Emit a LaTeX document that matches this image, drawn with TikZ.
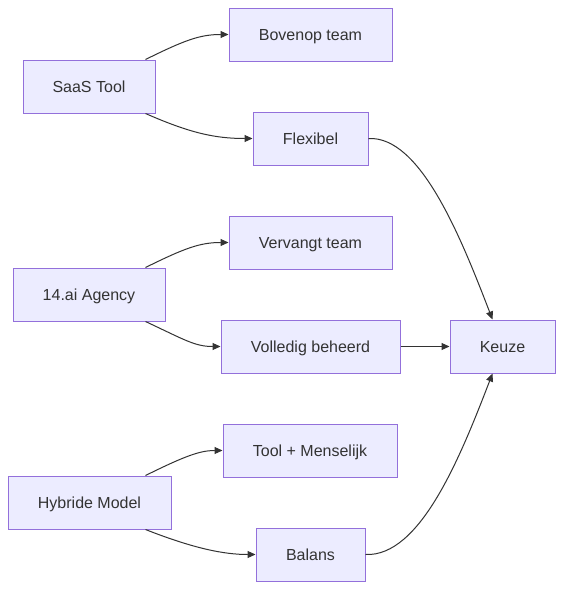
\documentclass[tikz,border=0pt]{standalone}
\usepackage{fontspec}
\setmainfont{Liberation Sans}
\usetikzlibrary{arrows.meta}
\definecolor{nodefill}{HTML}{ECECFF}
\definecolor{nodeline}{HTML}{9370DB}
\definecolor{txt}{HTML}{333333}
\definecolor{edge}{HTML}{333333}
\tikzset{
  box/.style={draw=nodeline, fill=nodefill, line width=1pt, rectangle, inner sep=0pt,
    text=txt, font=\fontsize{16}{19}\selectfont, minimum height=53pt,
    text height=11.5pt, text depth=0pt},
  conn/.style={draw=edge, line width=1pt, -{Triangle[length=8pt,width=7pt]}}
}
\begin{document}
\begin{tikzpicture}[x=1pt,y=-1pt]
\useasboundingbox (0,0) rectangle (564,590);
\node[box, minimum width=132pt] (saas) at (89,86.5) {SaaS Tool};
\node[box, minimum width=163pt] (bov) at (310.5,34.5) {Bovenop team};
\node[box, minimum width=115pt] (flex) at (310.5,138.5) {Flexibel};
\node[box, minimum width=163pt] (verv) at (310.5,242.5) {Vervangt team};
\node[box, minimum width=152pt] (agency) at (89,294.5) {14.ai Agency};
\node[box, minimum width=179pt] (voll) at (310.5,346.5) {Volledig beheerd};
\node[box, minimum width=105pt] (keuze) at (502.5,346.5) {Keuze};
\node[box, minimum width=174pt] (tool) at (310,450.5) {Tool + Menselijk};
\node[box, minimum width=163pt] (hyb) at (89.5,502.5) {Hybride Model};
\node[box, minimum width=109pt] (bal) at (310.5,554.5) {Balans};

\draw[conn] ([xshift=-10pt]saas.north east) .. controls (185,40) and (200,34.5) .. (bov.west);
\draw[conn] ([xshift=-10pt]saas.south east) .. controls (190,133) and (215,138.5) .. (flex.west);
\draw[conn] ([xshift=-20pt]agency.north east) .. controls (185,248) and (200,242.5) .. (verv.west);
\draw[conn] ([xshift=-20pt]agency.south east) .. controls (185,340) and (195,346.5) .. (voll.west);
\draw[conn] ([xshift=-26pt]hyb.north east) .. controls (185,456) and (200,450.5) .. (tool.west);
\draw[conn] ([xshift=-26pt]hyb.south east) .. controls (195,549) and (225,554.5) .. (bal.west);
\draw[conn] (flex.east) .. controls (420,136) and (460,235) .. ([xshift=-10pt]keuze.north);
\draw[conn] (voll.east) -- (keuze.west);
\draw[conn] (bal.east) .. controls (420,557) and (460,458) .. ([xshift=-10pt]keuze.south);
\end{tikzpicture}
\end{document}
